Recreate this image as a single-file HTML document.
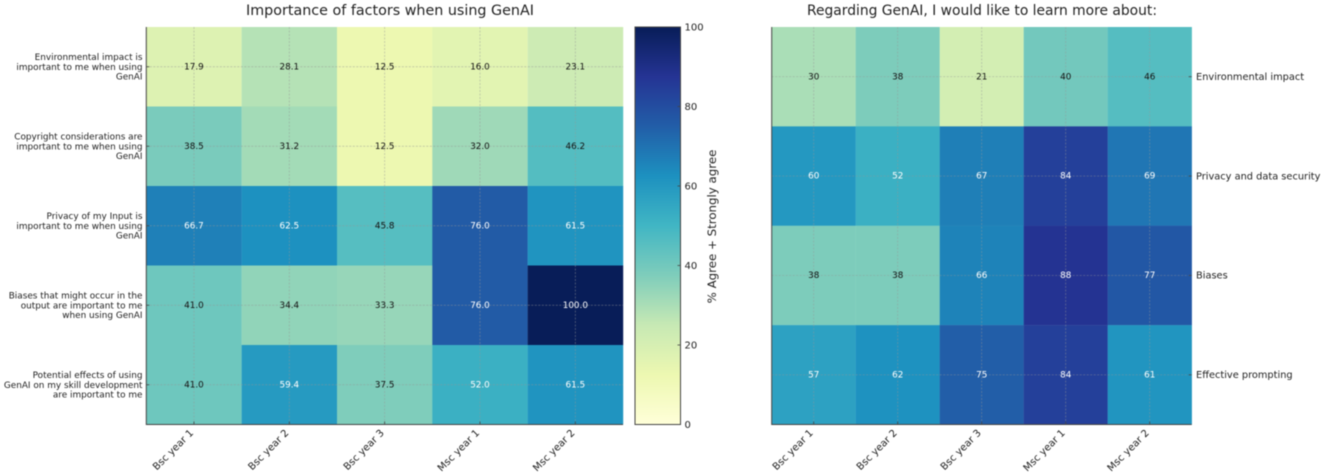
<!DOCTYPE html>
<html lang="en">
<head>
<meta charset="utf-8">
<title>GenAI heatmaps</title>
<style>
html,body{margin:0;padding:0;background:#fff;width:1325px;height:476px;overflow:hidden}
svg{display:block;filter:blur(0.4px)}
text{font-family:"DejaVu Sans","Liberation Sans",sans-serif;fill:#222}
</style>
</head>
<body>
<svg id="chart" xmlns="http://www.w3.org/2000/svg" width="1325" height="476" viewBox="0 0 1325 476">
<defs>
<linearGradient id="cbar-gradient" x1="0" y1="1" x2="0" y2="0"></linearGradient>
</defs>
</svg>
<script>
const yearCategories = ["Bsc year 1", "Bsc year 2", "Bsc year 3", "Msc year 1", "Msc year 2"];
const leftRowLabels = [
  ["Environmental impact is", "important to me when using", "GenAI"],
  ["Copyright considerations are", "important to me when using", "GenAI"],
  ["Privacy of my Input is", "important to me when using", "GenAI"],
  ["Biases that might occur in the", "output are important to me", "when using GenAI"],
  ["Potential effects of using", "GenAI on my skill development", "are important to me"]
];
const leftValues = [
  [17.9, 28.1, 12.5, 16.0, 23.1],
  [38.5, 31.2, 12.5, 32.0, 46.2],
  [66.7, 62.5, 45.8, 76.0, 61.5],
  [41.0, 34.4, 33.3, 76.0, 100.0],
  [41.0, 59.4, 37.5, 52.0, 61.5]
];
const rightRowLabels = ["Environmental impact", "Privacy and data security", "Biases", "Effective prompting"];
const rightValues = [
  [30, 38, 21, 40, 46],
  [60, 52, 67, 84, 69],
  [38, 38, 66, 88, 77],
  [57, 62, 75, 84, 61]
];
const colorbarTicks = [0, 20, 40, 60, 80, 100];
const ylGnBu = ["#ffffd9", "#edf8b1", "#c7e9b4", "#7fcdbb", "#41b6c4", "#1d91c0", "#225ea8", "#253494", "#081d58"];

const svg = document.getElementById('chart');
const NS = 'http://www.w3.org/2000/svg';
const plotTop = 27, plotBottom = 424.5;
const leftPlot = {x0: 146.3, x1: 623};
const rightPlot = {x0: 771.7, x1: 1191.7};
const cbar = {x0: 635, x1: 680.5};
const axisColor = '#444';
const gridColor = 'rgba(150,150,150,0.6)';

function make(tag, attrs, parent, text) {
  const el = document.createElementNS(NS, tag);
  for (const k in attrs) el.setAttribute(k, attrs[k]);
  if (text !== undefined) el.textContent = text;
  parent.appendChild(el);
  return el;
}
function hexToRgb(h) {
  return [1, 3, 5].map(function (i) { return parseInt(h.substr(i, 2), 16); });
}
function colorFor(v) {
  const t = Math.max(0, Math.min(1, v / 100)) * (ylGnBu.length - 1);
  const i = Math.min(Math.floor(t), ylGnBu.length - 2);
  const f = t - i;
  const a = hexToRgb(ylGnBu[i]), b = hexToRgb(ylGnBu[i + 1]);
  return 'rgb(' + a.map(function (c, k) { return Math.round(c + (b[k] - c) * f); }).join(',') + ')';
}
function bandX(p, n, i) { return p.x0 + (p.x1 - p.x0) * i / n; }
function bandY(n, i) { return plotTop + (plotBottom - plotTop) * i / n; }
function cbarY(v) { return plotBottom - (plotBottom - plotTop) * v / 100; }

function drawHeatmap(name, p, values, cols, decimals) {
  const g = make('g', {}, svg);
  
  
  const nR = values.length, nC = cols.length;
  values.forEach(function (row, r) {
    row.forEach(function (v, c) {
      const x0 = bandX(p, nC, c), x1 = bandX(p, nC, c + 1), y0 = bandY(nR, r), y1 = bandY(nR, r + 1);
      const cell = make('rect', {x: x0, y: y0, width: x1 - x0 + 0.2, height: y1 - y0 + 0.2, fill: colorFor(v)}, g);
      
      
    });
  });
  for (let c = 0; c < nC; c++) {
    const x = bandX(p, nC, c + 0.5);
    const line = make('line', {x1: x, x2: x, y1: plotTop, y2: plotBottom, stroke: gridColor, 'stroke-width': 0.7, 'stroke-dasharray': '2 1.5'}, g);
    
    
  }
  for (let r = 0; r < nR; r++) {
    const y = bandY(nR, r + 0.5);
    const line = make('line', {x1: p.x0, x2: p.x1, y1: y, y2: y, stroke: gridColor, 'stroke-width': 0.7, 'stroke-dasharray': '2 1.5'}, g);
    
    
  }
  values.forEach(function (row, r) {
    row.forEach(function (v, c) {
      const t = make('text', {x: bandX(p, nC, c + 0.5), y: bandY(nR, r + 0.5) + 2.6, 'text-anchor': 'middle', 'font-size': 8.8}, g, v.toFixed(decimals));
      t.style.fill = v >= 50 ? '#fff' : '#111';
      
      
    });
  });
  cols.forEach(function (label, c) {
    const x = bandX(p, nC, c + 0.5);
    const tick = make('line', {x1: x, x2: x, y1: plotBottom - 3, y2: plotBottom, stroke: axisColor, 'stroke-width': 0.8}, g);
    
    
    const ty = plotBottom + 9;
    const t = make('text', {x: x, y: ty, 'text-anchor': 'end', 'font-size': 10, transform: 'rotate(-45 ' + x + ' ' + ty + ')'}, g, label);
    
    
  });
  return g;
}

/* Left heatmap */
const leftG = drawHeatmap('importance-heatmap', leftPlot, leftValues, yearCategories, 1);
leftRowLabels.forEach(function (lines, r) {
  const y = bandY(leftRowLabels.length, r + 0.5);
  const tick = make('line', {x1: leftPlot.x0, x2: leftPlot.x0 + 3, y1: y, y2: y, stroke: axisColor, 'stroke-width': 0.8}, leftG);
  
  
  lines.forEach(function (line, i) {
    const t = make('text', {x: 142.5, y: y + 3 + (i - 1) * 9.8, 'text-anchor': 'end', 'font-size': 8.9}, leftG, line);
    
    
  });
});
const leftSpine = make('path', {d: 'M' + leftPlot.x0 + ' ' + plotTop + 'V' + plotBottom + 'H' + leftPlot.x1, fill: 'none', stroke: axisColor, 'stroke-width': 1}, leftG);


const leftTitle = make('text', {x: 390, y: 15, 'text-anchor': 'middle', 'font-size': 14.3}, svg, 'Importance of factors when using GenAI');



/* Colorbar */
const grad = document.getElementById('cbar-gradient');
ylGnBu.forEach(function (c, i) {
  make('stop', {offset: i / (ylGnBu.length - 1), 'stop-color': c}, grad);
});
const cbG = make('g', {}, svg);


const cbRect = make('rect', {x: cbar.x0, y: plotTop, width: cbar.x1 - cbar.x0, height: plotBottom - plotTop, fill: 'url(#cbar-gradient)', stroke: axisColor, 'stroke-width': 1}, cbG);


colorbarTicks.forEach(function (v) {
  const y = cbarY(v);
  const tick = make('line', {x1: cbar.x1 - 3, x2: cbar.x1, y1: y, y2: y, stroke: axisColor, 'stroke-width': 0.8}, cbG);
  
  
  const t = make('text', {x: 684.5, y: y + 3.5, 'font-size': 10}, cbG, String(v));
  
  
});
const cbLabel = make('text', {x: 716, y: 226.5, 'text-anchor': 'middle', 'font-size': 11.8, transform: 'rotate(-90 716 226.5)'}, cbG, '% Agree + Strongly agree');



/* Right heatmap */
const rightG = drawHeatmap('learning-interest-heatmap', rightPlot, rightValues, yearCategories, 0);
rightRowLabels.forEach(function (label, r) {
  const y = bandY(rightRowLabels.length, r + 0.5);
  const tick = make('line', {x1: rightPlot.x1 - 3, x2: rightPlot.x1, y1: y, y2: y, stroke: axisColor, 'stroke-width': 0.8}, rightG);
  
  
  const t = make('text', {x: 1196, y: y + 3.3, 'font-size': 9.8}, rightG, label);
  
  
});
const rightSpine = make('path', {d: 'M' + rightPlot.x0 + ' ' + plotTop + 'V' + plotBottom + 'H' + rightPlot.x1, fill: 'none', stroke: axisColor, 'stroke-width': 1}, rightG);


const rightTitle = make('text', {x: 982, y: 15, 'text-anchor': 'middle', 'font-size': 13.85}, svg, 'Regarding GenAI, I would like to learn more about:');


</script>
</body>
</html>
